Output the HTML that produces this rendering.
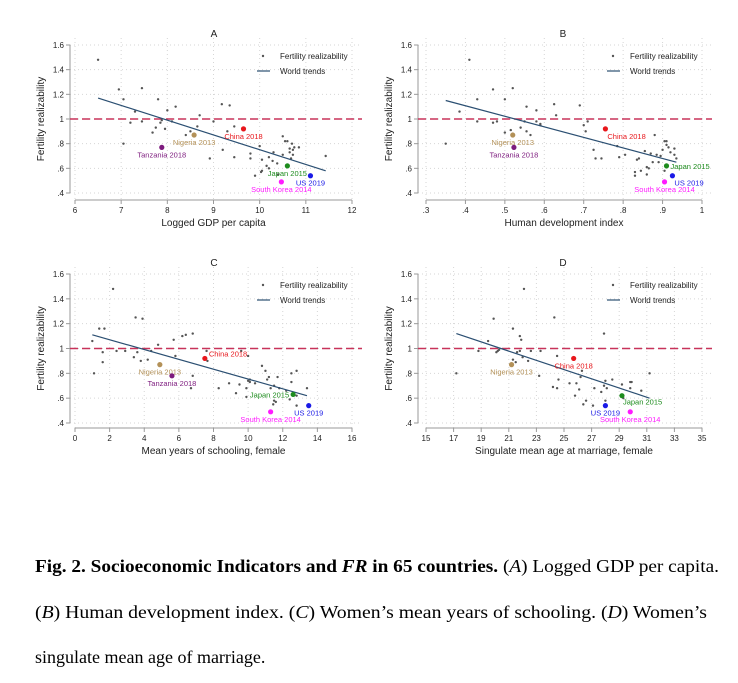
<!DOCTYPE html>
<html><head><meta charset="utf-8">
<style>
html,body{margin:0;padding:0;background:#fff;}
svg{display:block;font-family:"Liberation Sans",sans-serif;}
.cap{font-family:"Liberation Serif",serif;font-size:18px;fill:#000;}
</style></head>
<body>
<svg id="fig" width="738" height="683" viewBox="0 0 738 683">
<g id="panels"></g>
<g>
<text class="cap" x="35" y="572" textLength="684" lengthAdjust="spacingAndGlyphs"><tspan font-weight="bold">Fig. 2. Socioeconomic Indicators and <tspan font-style="italic">FR</tspan> in 65 countries.</tspan> (<tspan font-style="italic">A</tspan>) Logged GDP per capita.</text>
<text class="cap" x="35" y="618" textLength="672" lengthAdjust="spacingAndGlyphs">(<tspan font-style="italic">B</tspan>) Human development index. (<tspan font-style="italic">C</tspan>) Women’s mean years of schooling. (<tspan font-style="italic">D</tspan>) Women’s</text>
<text class="cap" x="35" y="663">singulate mean age of marriage.</text>
</g>
</svg>
<script>
// ---- data ----
const yTicks = [0.4,0.6,0.8,1.0,1.2,1.4,1.6];
const yTickLabels = [".4",".6",".8","1","1.2","1.4","1.6"];

const xTicksA = [6,7,8,9,10,11,12];
const xLabelsA = ["6","7","8","9","10","11","12"];
const xA = [6.5,6.95,7.05,7.45,7.3,7.2,7.45,7.05,7.8,7.75,7.68,7.88,7.85,7.95,8.0,8.1,8.18,8.4,8.5,8.65,8.7,8.92,9.0,9.18,9.35,9.3,9.2,9.45,9.45,9.8,9.8,9.9,10.0,10.05,10.05,10.03,10.15,10.2,10.2,10.28,10.3,10.38,10.4,10.5,10.5,10.55,10.6,10.65,10.65,10.7,10.72,10.75,10.72,10.85,10.68,11.43];
const yA = [1.48,1.24,1.16,1.25,1.06,0.97,0.98,0.80,1.16,0.93,0.89,0.99,0.97,0.92,1.07,0.98,1.10,0.87,0.90,0.94,1.03,0.68,0.98,1.12,1.11,0.90,0.75,0.94,0.69,0.72,0.68,0.54,0.78,0.67,0.58,0.57,0.62,0.69,0.60,0.66,0.73,0.64,0.55,0.71,0.86,0.82,0.82,0.76,0.73,0.80,0.75,0.77,0.71,0.77,0.68,0.70];
const hxA = [8.58,7.88,9.65,10.6,11.1,10.47];
const hyA = [0.87,0.77,0.92,0.62,0.54,0.49];
const trendA = [[6.5,1.17],[11.43,0.58]];

const xTicksB = [0.3,0.4,0.5,0.6,0.7,0.8,0.9,1.0];
const xLabelsB = [".3",".4",".5",".6",".7",".8",".9","1"];
const xB = [0.35,0.385,0.41,0.43,0.43,0.47,0.47,0.48,0.50,0.50,0.52,0.515,0.54,0.55,0.555,0.555,0.565,0.58,0.58,0.59,0.59,0.625,0.63,0.69,0.70,0.705,0.71,0.725,0.73,0.745,0.785,0.79,0.805,0.83,0.83,0.835,0.84,0.845,0.855,0.86,0.86,0.865,0.87,0.875,0.88,0.885,0.89,0.895,0.9,0.905,0.905,0.91,0.91,0.915,0.92,0.93,0.93,0.935];
const yB = [0.80,1.06,1.48,1.16,0.98,1.24,0.97,0.98,1.16,0.89,1.25,0.91,0.93,0.98,1.10,0.90,0.87,1.07,0.98,0.96,0.95,1.12,1.03,1.11,0.95,0.90,0.98,0.75,0.68,0.68,0.78,0.69,0.71,0.57,0.54,0.67,0.68,0.58,0.74,0.61,0.55,0.60,0.72,0.65,0.87,0.71,0.65,0.70,0.75,0.82,0.58,0.82,0.79,0.77,0.73,0.76,0.71,0.68];
const hxB = [0.52,0.523,0.755,0.91,0.925,0.905];
const hyB = [0.87,0.77,0.92,0.62,0.54,0.49];
const trendB = [[0.35,1.15],[0.935,0.65]];

const xTicksC = [0,2,4,6,8,10,12,14,16];
const xLabelsC = ["0","2","4","6","8","10","12","14","16"];
const xC = [1.0,1.1,1.4,1.7,1.6,1.6,2.2,2.4,2.9,3.5,3.6,3.4,3.8,3.9,4.2,4.4,4.8,5.7,5.8,6.2,6.4,6.8,6.8,6.7,7.6,7.65,8.3,8.9,9.3,9.5,9.6,9.9,9.9,10.0,10.0,10.1,10.1,10.4,10.8,11.0,11.1,11.2,11.3,11.5,11.5,11.6,11.45,11.7,11.8,12.2,12.4,12.5,12.5,12.8,12.8,12.8,13.4];
const yC = [1.06,0.80,1.16,1.16,0.97,0.89,1.48,0.98,0.98,1.25,0.97,0.93,0.90,1.24,0.91,0.98,1.03,1.07,0.94,1.10,1.11,1.12,0.78,0.68,0.98,0.90,0.68,0.72,0.64,0.71,0.98,0.68,0.61,0.94,0.74,0.75,0.73,0.72,0.86,0.82,0.75,0.77,0.68,0.70,0.58,0.57,0.55,0.77,0.68,0.66,0.59,0.80,0.73,0.82,0.62,0.54,0.68];
const hxC = [4.9,5.6,7.5,12.6,13.5,11.3];
const hyC = [0.87,0.78,0.92,0.63,0.54,0.49];
const trendC = [[1.0,1.11],[13.4,0.62]];

const xTicksD = [15,17,19,21,23,25,27,29,31,33,35];
const xLabelsD = ["15","17","19","21","23","25","27","29","31","33","35"];
const xD = [17.2,18.8,19.5,19.9,20.1,20.2,20.3,21.3,21.3,21.5,21.6,21.8,21.9,21.8,22.0,22.1,22.4,22.6,23.3,23.2,24.2,24.3,24.5,24.5,24.6,25.4,25.8,25.9,26.1,26.2,26.3,26.4,26.6,27.1,27.2,27.7,27.9,27.9,28.0,28.0,28.1,28.5,29.2,29.3,29.8,29.9,29.8,30.6,31.2];
const yD = [0.80,0.98,1.06,1.24,0.97,0.98,0.99,1.16,0.91,0.89,0.97,1.10,1.07,0.98,0.93,1.48,0.90,0.98,0.98,0.78,0.69,1.25,0.94,0.68,0.75,0.72,0.62,0.72,0.67,0.77,0.82,0.55,0.58,0.54,0.68,0.65,1.12,0.70,0.74,0.58,0.68,0.75,0.71,0.60,0.73,0.73,0.68,0.66,0.80];
const hxD = [21.2,25.7,29.2,28.0,29.8];
const hyD = [0.87,0.92,0.62,0.54,0.49];
const trendD = [[17.2,1.12],[31.2,0.60]];

const NS = "http://www.w3.org/2000/svg";
const root = document.getElementById('panels');
function mk(tag, attrs, parent, txt){
  const e = document.createElementNS(NS, tag);
  for (const k in attrs) e.setAttribute(k, attrs[k]);
  if (txt !== undefined) e.textContent = txt;
  parent.appendChild(e);
  return e;
}

function panel(cfg){
  const g = mk('g', {}, root);
  
  
  const ax = cfg.axisX, ay = cfg.axisY, right = cfg.right, top = cfg.top;
  const X = v => cfg.px0 + (v - cfg.xmin) / (cfg.xmax - cfg.xmin) * (cfg.px1 - cfg.px0);
  const Y = v => cfg.py0 + (v - 0.4) / 1.2 * (cfg.py1 - cfg.py0);
  yTicks.forEach(t => {
    const l = mk('line', {x1:ax, x2:right, y1:Y(t), y2:Y(t), stroke:'#d6d6d6', 'stroke-width':1, 'stroke-dasharray':'1 3'}, g);
    
    
  });
  cfg.xt.forEach(t => {
    const l = mk('line', {x1:X(t), x2:X(t), y1:top, y2:ay, stroke:'#d6d6d6', 'stroke-width':1, 'stroke-dasharray':'1 3'}, g);
    
    
  });
  const yl = mk('line', {x1:ax, x2:ax, y1:Y(1.6), y2:Y(0.4), stroke:'#9a9a9a', 'stroke-width':1}, g);
  
  
  const xl = mk('line', {x1:X(cfg.xt[0]), x2:X(cfg.xt[cfg.xt.length-1]), y1:ay, y2:ay, stroke:'#9a9a9a', 'stroke-width':1}, g);
  
  
  yTicks.forEach((t,i) => {
    mk('line', {x1:ax-4, x2:ax, y1:Y(t), y2:Y(t), stroke:'#9a9a9a'}, g);
    const tx = mk('text', {x:ax-6, y:Y(t)+3, 'text-anchor':'end', 'font-size':8, fill:'#222'}, g, yTickLabels[i]);
    
    
  });
  cfg.xt.forEach((t,i) => {
    mk('line', {x1:X(t), x2:X(t), y1:ay, y2:ay+4, stroke:'#9a9a9a'}, g);
    const tx = mk('text', {x:X(t), y:ay+13, 'text-anchor':'middle', 'font-size':8, fill:'#222'}, g, cfg.xl[i]);
    
    
  });
  const pt = mk('text', {x:(ax+right)/2 - 2, y:top-1, 'text-anchor':'middle', 'font-size':10, fill:'#222'}, g, cfg.id);
  
  
  const cy = (Y(1.6)+Y(0.4))/2;
  const yt = mk('text', {x:0, y:0, transform:`translate(${ax-26},${cy}) rotate(-90)`, 'text-anchor':'middle', 'font-size':10, fill:'#222'}, g, 'Fertility realizability');
  
  
  const xtl = mk('text', {x:(X(cfg.xt[0])+X(cfg.xt[cfg.xt.length-1]))/2, y:ay+26, 'text-anchor':'middle', 'font-size':10, fill:'#222'}, g, cfg.xtitle);
  
  
  const ref = mk('line', {x1:ax, x2:right, y1:Y(1), y2:Y(1), stroke:'#c8335a', 'stroke-width':1.5, 'stroke-dasharray':'8 4'}, g);
  
  
  cfg.xs.forEach((v,i) => {
    const c = mk('circle', {cx:X(v), cy:Y(cfg.ys[i]), r:1.2, fill:'#555'}, g);
    
    
  });
  const tl = mk('line', {x1:X(cfg.tr[0][0]), y1:Y(cfg.tr[0][1]), x2:X(cfg.tr[1][0]), y2:Y(cfg.tr[1][1]), stroke:'#2b4f72', 'stroke-width':1.2}, g);
  
  
  cfg.hx.forEach((v,i) => {
    const h = cfg.hl[i];
    const px = X(v), py = Y(cfg.hy[i]);
    const c = mk('circle', {cx:px, cy:py, r:2.6, fill:h.c}, g);
    
    
    const t = mk('text', {x:px+h.dx, y:py+h.dy, 'text-anchor':h.a, 'font-size':7.5, fill:h.c}, g, h.t);
    
    
  });
  const lx = right - 105, ly = top + 18;
  const lm = mk('circle', {cx:lx+6, cy:ly, r:1.2, fill:'#555'}, g);
  
  
  const lt1 = mk('text', {x:lx+23, y:ly+3, 'font-size':8, fill:'#222'}, g, 'Fertility realizability');
  
  
  const ll = mk('line', {x1:lx, x2:lx+13, y1:ly+15, y2:ly+15, stroke:'#2b4f72', 'stroke-width':1.2}, g);
  
  
  const lt2 = mk('text', {x:lx+23, y:ly+18, 'font-size':8, fill:'#222'}, g, 'World trends');
  
  
}

const NIG='#b39158', TAN='#7d1b7e', CHN='#e8171c', JPN='#1e8c1e', USA='#1a1ae6', KOR='#ff1aff';
const below = (t,c) => ({t, c, a:'middle', dx:0, dy:10});

panel({id:'A', axisX:70, axisY:200, right:362, top:38, px0:75, px1:352, xmin:6, xmax:12, py0:193, py1:45,
  xt:xTicksA, xl:xLabelsA, xs:xA, ys:yA, hx:hxA, hy:hyA, tr:trendA, xtitle:'Logged GDP per capita',
  hl:[below('Nigeria 2013',NIG), below('Tanzania 2018',TAN), below('China 2018',CHN), below('Japan 2015',JPN), below('US 2019',USA), below('South Korea 2014',KOR)]});
panel({id:'B', axisX:418, axisY:200, right:712, top:38, px0:426, px1:702, xmin:0.3, xmax:1.0, py0:193, py1:45,
  xt:xTicksB, xl:xLabelsB, xs:xB, ys:yB, hx:hxB, hy:hyB, tr:trendB, xtitle:'Human development index',
  hl:[below('Nigeria 2013',NIG), below('Tanzania 2018',TAN), {t:'China 2018',c:CHN,a:'start',dx:2,dy:10}, {t:'Japan 2015',c:JPN,a:'start',dx:4,dy:3}, {t:'US 2019',c:USA,a:'start',dx:2,dy:10}, below('South Korea 2014',KOR)]});
panel({id:'C', axisX:70, axisY:428, right:362, top:267, px0:75, px1:352, xmin:0, xmax:16, py0:423, py1:274,
  xt:xTicksC, xl:xLabelsC, xs:xC, ys:yC, hx:hxC, hy:hyC, tr:trendC, xtitle:'Mean years of schooling, female',
  hl:[below('Nigeria 2013',NIG), below('Tanzania 2018',TAN), {t:'China 2018',c:CHN,a:'start',dx:4,dy:-2}, {t:'Japan 2015',c:JPN,a:'end',dx:-4,dy:3}, below('US 2019',USA), below('South Korea 2014',KOR)]});
panel({id:'D', axisX:418, axisY:428, right:712, top:267, px0:426, px1:702, xmin:15, xmax:35, py0:423, py1:274,
  xt:xTicksD, xl:xLabelsD, xs:xD, ys:yD, hx:hxD, hy:hyD, tr:trendD, xtitle:'Singulate mean age at marriage, female',
  hl:[below('Nigeria 2013',NIG), below('China 2018',CHN), {t:'Japan 2015',c:JPN,a:'start',dx:1,dy:9}, below('US 2019',USA), below('South Korea 2014',KOR)]});
</script>
</body></html>
